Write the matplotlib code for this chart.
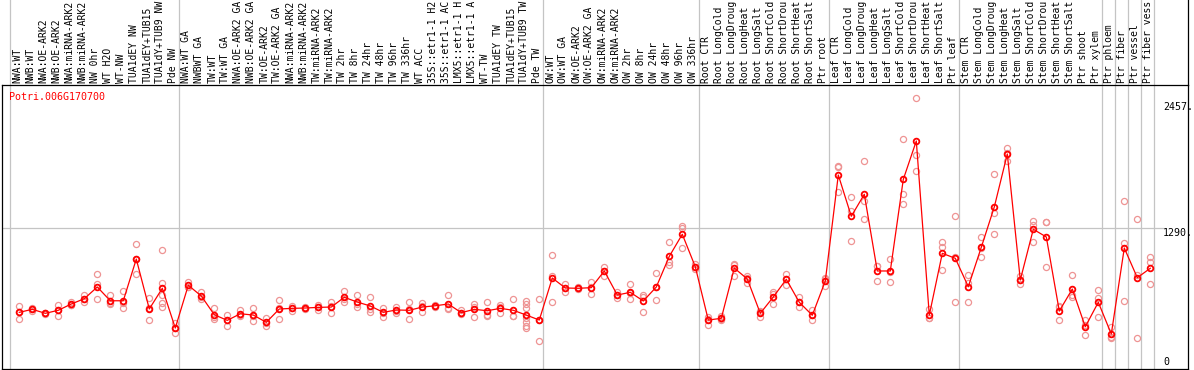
import matplotlib
matplotlib.use('Agg')
import matplotlib.pyplot as plt
from matplotlib import transforms

plt.rcParams['font.family'] = ['DejaVu Sans Mono']

gene = 'Potri.006G170700'

samples = [
    'NWA:WT', 'NWB:WT', 'NWA:OE-ARK2', 'NWB:OE-ARK2', 'NWA:miRNA-ARK2',
    'NWB:miRNA-ARK2', 'NW 0hr', 'WT H2O', 'WT-NW', 'TUA1dEY NW',
    'TUA1dEY+TUB15', 'TUA1dY+TUB9 NW', 'Pde NW',
    'NWA:WT GA', 'NWBWT GA', 'TW:WT', 'TW:WT GA', 'NWA:OE-ARK2 GA',
    'NWB:OE-ARK2 GA', 'TW:OE-ARK2', 'TW:OE-ARK2 GA', 'NWA:miRNA-ARK2',
    'NWB:miRNA-ARK2', 'TW:miRNA-ARK2', 'TW:miRNA-ARK2', 'TW 2hr', 'TW 8hr',
    'TW 24hr', 'TW 48hr', 'TW 96hr', 'TW 336hr', 'WT ACC',
    '35S::etr1-1 H2O', '35S::etr1-1 ACC', 'LMX5::etr1-1 H2O',
    'LMX5::etr1-1 ACC', 'WT-TW', 'TUA1dEY TW', 'TUA1dEY+TUB15',
    'TUA1dY+TUB9 TW', 'Pde TW',
    'OW:WT', 'OW:WT GA', 'OW:OE-ARK2', 'OW:OE-ARK2 GA', 'OW:miRNA-ARK2',
    'OW:miRNA-ARK2', 'OW 2hr', 'OW 8hr', 'OW 24hr', 'OW 48hr', 'OW 96hr',
    'OW 336hr',
    'Root CTR', 'Root LongCold', 'Root LongDrought', 'Root LongHeat',
    'Root LongSalt', 'Root ShortCold', 'Root ShortDrought', 'Root ShortHeat',
    'Root ShortSalt', 'Ptr root',
    'Leaf CTR', 'Leaf LongCold', 'Leaf LongDrought', 'Leaf LongHeat',
    'Leaf LongSalt', 'Leaf ShortCold', 'Leaf ShortDrought', 'Leaf ShortHeat',
    'Leaf ShortSalt', 'Ptr leaf',
    'Stem CTR', 'Stem LongCold', 'Stem LongDrought', 'Stem LongHeat',
    'Stem LongSalt', 'Stem ShortCold', 'Stem ShortDrought', 'Stem ShortHeat',
    'Stem ShortSalt', 'Ptr shoot', 'Ptr xylem',
    'Ptr phloem', 'Ptr fiber', 'Ptr vessel', 'Ptr fiber vessel',
]

means = [
    514, 542, 505, 533, 591, 640, 748, 621, 621, 1006,
    545, 736, 369, 764, 665, 492, 440, 501, 489, 422,
    545, 551, 554, 560, 563, 653, 609, 573, 514, 536,
    533, 563, 575, 591, 511, 542, 529, 551, 533, 489,
    443, 831, 739, 736, 742, 896, 674, 699, 619, 748,
    1031, 1235, 935, 443, 459, 923, 822, 505, 656, 819,
    607, 487, 803, 1782, 1401, 1604, 896, 896, 1742, 2096,
    489, 1059, 1013, 751, 1115, 1487, 1976, 813, 1281, 1210,
    526, 729, 381, 607, 314, 1108, 834, 921,
]

reps = [
    [575, 517, 450], [554, 545, 526], [510, 505, 500], [582, 533, 483],
    [612, 582, 580], [674, 640, 605], [865, 773, 634], [674, 597, 595],
    [711, 600, 551], [1142, 1010, 865],
    [644, 550, 440], [1090, 788, 674, 597, 566], [416, 370, 320],
    [797, 750, 745], [699, 660, 636], [551, 475, 450], [489, 440, 392],
    [536, 485, 483], [551, 482, 434], [459, 416, 391],
    [628, 557, 450], [575, 551, 526], [565, 554, 543], [582, 560, 538],
    [612, 572, 505], [714, 633, 612], [674, 590, 566], [656, 543, 520],
    [557, 510, 474], [566, 531, 511],
    [607, 542, 450], [597, 572, 520], [585, 575, 565], [674, 555, 545],
    [533, 505, 496], [591, 560, 474], [612, 492, 483], [582, 560, 511],
    [637, 483, 480], [619, 590, 557, 459, 422, 391, 367],
    [637, 440, 252], [1041, 845, 607], [773, 740, 705], [750, 736, 725],
    [797, 748, 681], [935, 900, 850], [705, 674, 644], [773, 690, 634],
    [674, 660, 520], [874, 748, 625],
    [1161, 982, 950], [1314, 1290, 1105], [958, 935, 912], [474, 455, 397],
    [480, 455, 445], [960, 955, 850], [850, 830, 782], [525, 515, 474],
    [699, 680, 588], [868, 822, 766],
    [656, 607, 560], [536, 485, 443], [828, 820, 760], [1862, 1856, 1628],
    [1576, 1453, 1173], [1909, 1542, 1373], [942, 942, 803],
    [1006, 891, 791], [2112, 1607, 1512], [2490, 1967, 1819],
    [545, 463, 459], [1161, 1120, 902], [1404, 1028, 607], [859, 787, 607],
    [1207, 1110, 1028], [1789, 1429, 1237], [2034, 1985, 1911],
    [850, 813, 776], [1360, 1318, 1166], [1352, 1345, 933],
    [575, 563, 440], [859, 672, 656], [443, 395, 305], [720, 644, 468],
    [381, 288, 274], [1545, 1157, 619], [1373, 855, 274], [1022, 981, 773],
]

group_breaks = [-0.5, 12.5, 40.5, 52.5, 62.5, 72.5, 83.5, 84.5, 85.5, 86.5, 87.5]
ytick_vals = [0, 1290, 2457]
ytick_text = ['0', '1290.', '2457.']

MAXCH = 14  # the header only has room for this many characters

W, H = 1194, 370
fig = plt.figure(figsize=(W / 100, H / 100), dpi=100)
fig.patch.set_facecolor('white')

# plot box in pixels: x 2..1188, y 85..369
ax = fig.add_axes([2 / W, 1 - 369 / H, 1186 / W, 284 / H])
ax.set_xlim(-1.14, 90.09)
ax.set_ylim(-9, 2613)
ax.set_xticks([])
ax.set_yticks([])
for sp in ax.spines.values():
    sp.set_linewidth(0.9)
    sp.set_color('black')

top = 369 / 284  # axes fraction of the top of the image
grey = '#c4c4c4'
for b in group_breaks:
    ax.axvline(b, ymin=0, ymax=top, color=grey, lw=0.9, clip_on=False, zorder=0)
ax.axhline(1290, xmin=0, xmax=0.979, color=grey, lw=0.9, zorder=0)
ax.plot([1, 1], [1, top], transform=ax.transAxes, color='black', lw=0.9, clip_on=False)

# sample labels above the plot
lab_tr = transforms.blended_transform_factory(ax.transData, ax.transAxes)
for i, lab in enumerate(samples):
    ax.text(i + 0.05, 1.007, lab[:MAXCH], transform=lab_tr, rotation=90,
            ha='center', va='bottom', fontsize=7.0, color='black')

xs = [i + 0.19 for i in range(len(means))]

# replicates
for x, r in zip(xs, reps):
    ax.plot([x] * len(r), r, 'o', mfc='none', mec='#ee9494', ms=4.4, mew=0.9, zorder=2)

# mean line
ax.plot(xs, means, '-', color='red', lw=0.9, zorder=3)
ax.plot(xs, means, 'o', mfc='none', mec='red', ms=4.1, mew=1.3, zorder=4)

ax.text((9.3 - 2) / 1186, (369 - 97) / 284, gene, transform=ax.transAxes,
        color='red', ha='left', va='center', fontsize=7.2)

tick_tr = transforms.blended_transform_factory(ax.transAxes, ax.transData)
for v, t in zip(ytick_vals, ytick_text):
    dy = 6 if v == 0 else -5
    tr = transforms.offset_copy(tick_tr, fig=fig, x=0, y=dy, units='dots')
    ax.text(0.979, v, t, transform=tr, ha='left', va='center',
            fontsize=7.2, color='black')

fig.savefig('out.png', dpi=100)
